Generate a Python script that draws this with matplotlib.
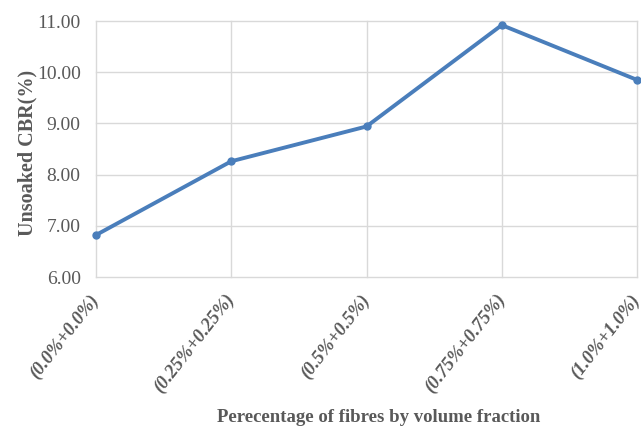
import matplotlib.pyplot as plt
import numpy as np

categories = ["(0.0%+0.0%)", "(0.25%+0.25%)", "(0.5%+0.5%)", "(0.75%+0.75%)", "(1.0%+1.0%)"]
cbr_values = [6.82, 8.26, 8.94, 10.92, 9.85]
y_ticks = [6.0, 7.0, 8.0, 9.0, 10.0, 11.0]

grey = "#595959"
blue = "#4a7ebb"

fig = plt.figure(figsize=(6.41, 4.30), dpi=100)
ax = fig.add_axes([96 / 641, 1 - 277 / 430, (637 - 96) / 641, (277 - 21) / 430])

x = np.arange(len(categories))
ax.plot(x, cbr_values, color=blue, linewidth=2.8, marker="o", markersize=5,
        markerfacecolor=blue, markeredgecolor=blue, clip_on=False, zorder=3)

ax.set_xlim(0, len(categories) - 1)
ax.set_ylim(6, 11)
ax.set_xticks(x)
ax.set_xticklabels(categories, rotation=52, ha="right", va="center",
                   rotation_mode="anchor", fontsize=13.5, fontweight="bold",
                   fontstyle="italic", family="Liberation Serif", color=grey)
ax.set_yticks(y_ticks)
ax.set_yticklabels([f"{v:.2f}" for v in y_ticks], fontsize=14,
                   family="Liberation Serif", color=grey)
ax.tick_params(axis="both", length=0)
ax.tick_params(axis="x", pad=14)
ax.tick_params(axis="y", pad=11)

for s in ax.spines.values():
    s.set_visible(False)
ax.grid(True, color="#d9d9d9", linewidth=1.0, clip_on=False)
ax.set_axisbelow(True)

fig.text(27 / 641, 1 - 153 / 430, "Unsoaked CBR(%)", rotation=90, ha="center", va="center",
         fontsize=14.5, fontweight="bold", family="Liberation Serif", color=grey)
fig.text(379 / 641, 1 - 418 / 430, "Perecentage of fibres by volume fraction", ha="center",
         va="center", fontsize=13.5, fontweight="bold", family="Liberation Serif", color=grey)

fig.savefig("out.png", dpi=100)
